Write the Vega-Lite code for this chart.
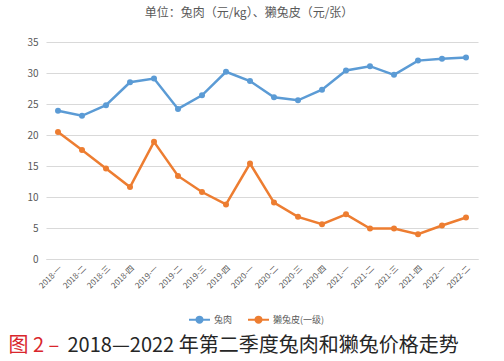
{
  "$schema": "https://vega.github.io/schema/vega-lite/v6.json",
  "width": 432,
  "height": 217,
  "autosize": "none",
  "padding": {"left": 46, "top": 42, "right": 26, "bottom": 102},
  "background": "white",
  "config": {
    "font": "Noto Sans CJK SC",
    "view": {"stroke": null}
  },
  "title": {
    "text": "单位：兔肉（元/kg）、獭兔皮（元/张）",
    "anchor": "middle",
    "frame": "group",
    "fontSize": 12,
    "fontWeight": "normal",
    "color": "#595959",
    "baseline": "middle",
    "offset": 12,
    "dx": -13
  },
  "data": {
    "values": [
      {"period": "2018-一", "series": "兔肉", "value": 23.9},
      {"period": "2018-二", "series": "兔肉", "value": 23.1},
      {"period": "2018-三", "series": "兔肉", "value": 24.8},
      {"period": "2018-四", "series": "兔肉", "value": 28.5},
      {"period": "2019-一", "series": "兔肉", "value": 29.1},
      {"period": "2019-二", "series": "兔肉", "value": 24.2},
      {"period": "2019-三", "series": "兔肉", "value": 26.4},
      {"period": "2019-四", "series": "兔肉", "value": 30.2},
      {"period": "2020-一", "series": "兔肉", "value": 28.7},
      {"period": "2020-二", "series": "兔肉", "value": 26.1},
      {"period": "2020-三", "series": "兔肉", "value": 25.6},
      {"period": "2020-四", "series": "兔肉", "value": 27.3},
      {"period": "2021-一", "series": "兔肉", "value": 30.4},
      {"period": "2021-二", "series": "兔肉", "value": 31.1},
      {"period": "2021-三", "series": "兔肉", "value": 29.7},
      {"period": "2021-四", "series": "兔肉", "value": 32.0},
      {"period": "2022-一", "series": "兔肉", "value": 32.3},
      {"period": "2022-二", "series": "兔肉", "value": 32.5},
      {"period": "2018-一", "series": "獭兔皮(一级)", "value": 20.5},
      {"period": "2018-二", "series": "獭兔皮(一级)", "value": 17.6},
      {"period": "2018-三", "series": "獭兔皮(一级)", "value": 14.6},
      {"period": "2018-四", "series": "獭兔皮(一级)", "value": 11.6},
      {"period": "2019-一", "series": "獭兔皮(一级)", "value": 18.9},
      {"period": "2019-二", "series": "獭兔皮(一级)", "value": 13.4},
      {"period": "2019-三", "series": "獭兔皮(一级)", "value": 10.8},
      {"period": "2019-四", "series": "獭兔皮(一级)", "value": 8.8},
      {"period": "2020-一", "series": "獭兔皮(一级)", "value": 15.4},
      {"period": "2020-二", "series": "獭兔皮(一级)", "value": 9.1},
      {"period": "2020-三", "series": "獭兔皮(一级)", "value": 6.8},
      {"period": "2020-四", "series": "獭兔皮(一级)", "value": 5.6},
      {"period": "2021-一", "series": "獭兔皮(一级)", "value": 7.2},
      {"period": "2021-二", "series": "獭兔皮(一级)", "value": 4.9},
      {"period": "2021-三", "series": "獭兔皮(一级)", "value": 4.9},
      {"period": "2021-四", "series": "獭兔皮(一级)", "value": 4.0},
      {"period": "2022-一", "series": "獭兔皮(一级)", "value": 5.4},
      {"period": "2022-二", "series": "獭兔皮(一级)", "value": 6.7}
    ]
  },
  "encoding": {
    "x": {
      "field": "period",
      "type": "ordinal",
      "sort": null,
      "scale": {"type": "point", "padding": 0.5},
      "axis": {
        "title": "图 2 –",
        "titleFontSize": 20,
        "titleFontWeight": "normal",
        "titleColor": "#d9262c",
        "titleX": -38,
        "titleY": 86,
        "titleAlign": "left",
        "titleBaseline": "middle",
        "labelAngle": -45,
        "labelFontSize": 8,
        "labelColor": "#595959",
        "labelPadding": 5,
        "ticks": false,
        "domain": true,
        "domainColor": "#d9d9d9",
        "grid": false
      }
    },
    "y": {
      "field": "value",
      "type": "quantitative",
      "scale": {"domain": [0, 35], "nice": false},
      "axis": {
        "values": [0, 5, 10, 15, 20, 25, 30, 35],
        "title": "2018—2022 年第二季度兔肉和獭兔价格走势",
        "titleFontSize": 20,
        "titleFontWeight": "normal",
        "titleColor": "#262626",
        "titleAngle": 0,
        "titleX": 21,
        "titleY": 303,
        "titleAlign": "left",
        "titleBaseline": "middle",
        "labelFontSize": 10,
        "labelColor": "#595959",
        "labelPadding": 8,
        "ticks": false,
        "domain": false,
        "grid": true,
        "gridColor": "#d9d9d9",
        "gridWidth": 1
      }
    },
    "color": {
      "field": "series",
      "type": "nominal",
      "scale": {"domain": ["兔肉", "獭兔皮(一级)"], "range": ["#5b9bd5", "#ed7d31"]},
      "legend": {
        "title": null,
        "orient": "none",
        "legendX": 142,
        "legendY": 266,
        "direction": "horizontal",
        "symbolType": "M -1 0 L 1 0 M 0.29 0 A 0.29 0.29 0 1 1 -0.29 0 A 0.29 0.29 0 1 1 0.29 0",
        "symbolSize": 441,
        "symbolStrokeWidth": 2,
        "labelFontSize": 9,
        "labelColor": "#595959",
        "labelOffset": 3,
        "columnPadding": 11
      }
    }
  },
  "layer": [
    {"mark": {"type": "line", "strokeWidth": 2.5}},
    {"mark": {"type": "point", "filled": true, "size": 36, "opacity": 1}}
  ]
}
